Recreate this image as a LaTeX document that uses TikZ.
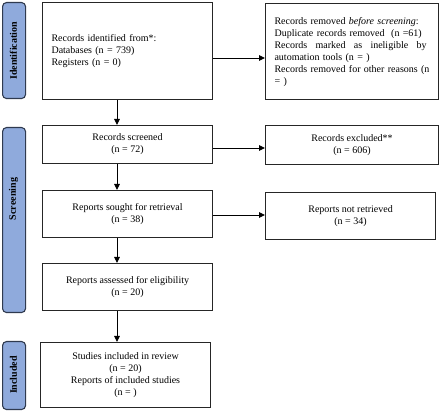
\documentclass[tikz,border=0pt]{standalone}
\usepackage{fontspec}
\setmainfont{Liberation Serif}
\usetikzlibrary{arrows.meta}
\definecolor{sidefill}{HTML}{8FAADC}
\definecolor{sideline}{HTML}{2F3A4F}
\definecolor{boxline}{HTML}{262626}
\begin{document}
\begin{tikzpicture}[x=1pt,y=-1pt,
  box/.style={draw=boxline, line width=1.1pt, inner ysep=0pt, anchor=north west,
    font=\fontsize{10}{12}\selectfont},
  side/.style={draw=sideline, fill=sidefill, line width=1.1pt, rounded corners=4pt,
    anchor=north west, minimum width=23pt, inner sep=0pt},
  sidelabel/.style={rotate=90, font=\fontsize{10}{12}\selectfont\bfseries, inner sep=0pt},
  arr/.style={line width=0.9pt, -{Triangle[length=6pt,width=5.5pt]}}]
\useasboundingbox (0,0) rectangle (440,411);
% side panels
\node[side, minimum height=96pt] (sid) at (2,2) {};
\node[sidelabel] (lid) at (13.5,51) {Identification};
\node[side, minimum height=185pt] (ssc) at (2,127) {};
\node[sidelabel] (lsc) at (13.5,199) {Screening};
\node[side, minimum height=68pt] (sin) at (2,341) {};
\node[sidelabel] (lin) at (13.5,375) {Included};
% boxes
\node[box, inner xsep=9pt, text width=152pt, minimum height=97pt, align=left] (b1) at (42,2)
  {Records identified from*:\\Databases (n = 739)\\Registers (n = 0)};
\node[box, inner xsep=9pt, text width=155pt, minimum height=96pt, align=left] (b2) at (265,3)
  {Records removed \emph{before screening}:\\
   Duplicate records removed \ (n =61)\\
   \leavevmode\hbox to 152pt{Records\hfill marked\hfill as\hfill ineligible\hfill by}\\
   automation tools (n = )\\
   Records removed for other reasons (n\\
   = )};
\node[box, inner xsep=0pt, minimum width=170pt, minimum height=38pt, align=center] (b3) at (42,125)
  {Records screened\\(n = 72)};
\node[box, inner xsep=0pt, minimum width=173pt, minimum height=39pt, align=center] (b4) at (265,125)
  {Records excluded**\\(n = 606)};
\node[box, inner xsep=0pt, minimum width=170pt, minimum height=47pt, align=center] (b5) at (42,190)
  {Reports sought for retrieval\\(n = 38)};
\node[box, inner xsep=0pt, minimum width=170pt, minimum height=47pt, align=center] (b6) at (265,192)
  {Reports not retrieved\\(n = 34)};
\node[box, inner xsep=0pt, minimum width=170pt, minimum height=47pt, align=center] (b7) at (42,263)
  {Reports assessed for eligibility\\(n = 20)};
\node[box, inner xsep=0pt, minimum width=170pt, minimum height=65pt, align=center] (b8) at (40,342)
  {Studies included in review\\(n = 20)\\Reports of included studies\\(n = )};
% guide coordinates
\coordinate (xv) at (117,0);
\coordinate (ya) at (0,58);
\coordinate (yb) at (0,148);
\coordinate (yc) at (0,215);
% connectors
\draw[arr] (b1.east |- ya) -- (b2.west |- ya);
\draw[arr] (b3.east |- yb) -- (b4.west |- yb);
\draw[arr] (b5.east |- yc) -- (b6.west |- yc);
\draw[arr] (b1.south -| xv) -- (b3.north -| xv);
\draw[arr] (b3.south -| xv) -- (b5.north -| xv);
\draw[arr] (b5.south -| xv) -- (b7.north -| xv);
\draw[arr] (b7.south -| xv) -- (b8.north -| xv);
\end{tikzpicture}
\end{document}
